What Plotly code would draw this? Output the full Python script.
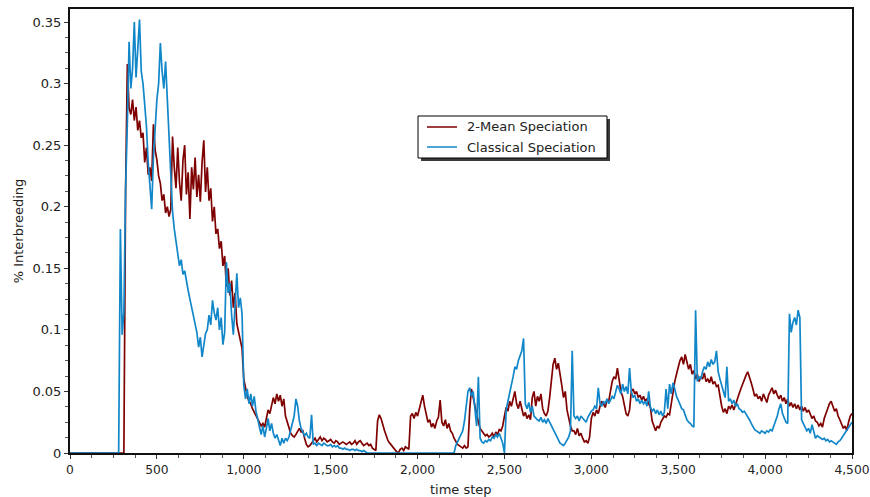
import plotly.graph_objects as go

# Sampling grid: one sample every 10 time steps from 0 to 4500
time_step = list(range(0, 4510, 10))

# % interbreeding for the 2-Mean speciation run (one row = 100 time steps)
two_mean = [
    0, 0, 0, 0, 0, 0, 0, 0, 0, 0,
    0, 0, 0, 0, 0, 0, 0, 0, 0, 0,
    0, 0, 0, 0, 0, 0, 0, 0, 0, 0,
    0, 0, 0.214, 0.316, 0.28, 0.275, 0.287, 0.27, 0.281, 0.262,
    0.27, 0.256, 0.26, 0.236, 0.248, 0.226, 0.232, 0.221, 0.267, 0.246,
    0.238, 0.225, 0.219, 0.205, 0.21, 0.195, 0.2, 0.192, 0.198, 0.257,
    0.232, 0.215, 0.248, 0.22, 0.205, 0.238, 0.25, 0.21, 0.228, 0.19,
    0.232, 0.214, 0.24, 0.208, 0.226, 0.204, 0.236, 0.254, 0.212, 0.232,
    0.205, 0.215, 0.188, 0.2, 0.178, 0.182, 0.166, 0.172, 0.152, 0.16,
    0.135, 0.15, 0.128, 0.14, 0.118, 0.13, 0.105, 0.098, 0.092, 0.085,
    0.06, 0.052, 0.046, 0.042, 0.04, 0.036, 0.033, 0.03, 0.028, 0.025,
    0.022, 0.024, 0.021, 0.028, 0.035, 0.032, 0.04, 0.045, 0.04, 0.048,
    0.042, 0.047, 0.038, 0.044, 0.03, 0.025, 0.02, 0.016, 0.014, 0.013,
    0.015, 0.018, 0.02, 0.017, 0.018, 0.012, 0.007, 0.005, 0.006, 0.008,
    0.01, 0.012, 0.009, 0.011, 0.013, 0.01, 0.012, 0.011, 0.009, 0.01,
    0.011, 0.009, 0.008, 0.01, 0.009, 0.007, 0.008, 0.009, 0.008, 0.007,
    0.008, 0.009, 0.007, 0.008, 0.01, 0.007, 0.009, 0.01, 0.008, 0.006,
    0.007, 0.008, 0.006, 0.007, 0.004, 0.003, 0.002, 0.026, 0.031, 0.028,
    0.022, 0.018, 0.014, 0.01, 0.008, 0.006, 0.004, 0.002, 0.001, 0.0,
    0.003, 0.004, 0.002, 0.005, 0.004, 0.003, 0.03, 0.032, 0.028, 0.033,
    0.03, 0.035, 0.04, 0.047, 0.038, 0.03, 0.025, 0.027, 0.021, 0.024,
    0.02, 0.026, 0.029, 0.043, 0.025, 0.022, 0.027, 0.02, 0.024, 0.018,
    0.016, 0.012, 0.009, 0.007, 0.006, 0.005, 0.004, 0.006, 0.004, 0.005,
    0.035, 0.052, 0.045, 0.036, 0.03, 0.025, 0.02, 0.018, 0.016, 0.014,
    0.015, 0.013, 0.014, 0.016, 0.013, 0.017, 0.015, 0.019, 0.018, 0.022,
    0.03, 0.037, 0.034, 0.042, 0.038, 0.045, 0.05, 0.04, 0.036, 0.042,
    0.035, 0.03, 0.033, 0.028, 0.031, 0.027, 0.045, 0.05, 0.038, 0.046,
    0.042, 0.048, 0.036, 0.032, 0.03, 0.034, 0.045, 0.06, 0.072, 0.077,
    0.068, 0.073, 0.062, 0.055, 0.045, 0.05, 0.035, 0.028, 0.022, 0.018,
    0.018, 0.015, 0.02, 0.014, 0.016, 0.012, 0.009, 0.01, 0.008, 0.013,
    0.028, 0.033, 0.03, 0.035, 0.032, 0.038, 0.042, 0.04, 0.037, 0.043,
    0.042, 0.05, 0.058, 0.062, 0.06, 0.069, 0.058, 0.05, 0.046, 0.038,
    0.032, 0.03, 0.035, 0.05, 0.052, 0.048, 0.05, 0.045, 0.047, 0.043,
    0.046, 0.042, 0.044, 0.04, 0.037, 0.026, 0.022, 0.018, 0.022, 0.02,
    0.025, 0.028, 0.03, 0.029, 0.032, 0.031, 0.04, 0.052, 0.058, 0.064,
    0.07, 0.075, 0.078, 0.072, 0.08, 0.074, 0.068, 0.072, 0.064, 0.067,
    0.06, 0.064, 0.058, 0.062, 0.06, 0.065, 0.058, 0.06, 0.057, 0.062,
    0.056, 0.058, 0.054, 0.055, 0.045, 0.038, 0.033, 0.036, 0.032, 0.038,
    0.036, 0.039, 0.035, 0.04, 0.045, 0.048, 0.052, 0.056, 0.06, 0.063,
    0.066, 0.062, 0.057, 0.052, 0.046, 0.048, 0.044, 0.046, 0.042, 0.048,
    0.045, 0.041, 0.047, 0.05, 0.053, 0.048, 0.051, 0.047, 0.044, 0.047,
    0.042, 0.045, 0.04, 0.044, 0.038, 0.041, 0.037, 0.04, 0.036, 0.039,
    0.035, 0.038, 0.034, 0.037, 0.033, 0.035, 0.031, 0.028, 0.03, 0.026,
    0.025, 0.022, 0.024, 0.021, 0.028, 0.033, 0.036, 0.04, 0.042, 0.038,
    0.034, 0.036, 0.03, 0.027, 0.024, 0.02, 0.022, 0.018, 0.025, 0.03,
    0.032,
]

# % interbreeding for the classical speciation run (one row = 100 time steps)
classical = [
    0, 0, 0, 0, 0, 0, 0, 0, 0, 0,
    0, 0, 0, 0, 0, 0, 0, 0, 0, 0,
    0, 0, 0, 0, 0, 0, 0, 0, 0, 0.182,
    0.096, 0.114, 0.215, 0.268, 0.334, 0.296, 0.312, 0.35, 0.305, 0.328,
    0.352, 0.31, 0.3, 0.283, 0.265, 0.236, 0.215, 0.198, 0.24, 0.265,
    0.287, 0.3, 0.333, 0.31, 0.296, 0.318, 0.29, 0.262, 0.225, 0.196,
    0.182, 0.172, 0.163, 0.152, 0.157, 0.145, 0.148, 0.138, 0.132, 0.125,
    0.118, 0.112, 0.104, 0.098, 0.086, 0.094, 0.078, 0.09, 0.097, 0.1,
    0.112, 0.104, 0.124, 0.114, 0.108, 0.118, 0.1, 0.11, 0.088, 0.098,
    0.155, 0.13, 0.138, 0.112, 0.096, 0.12, 0.146, 0.118, 0.126, 0.113,
    0.055, 0.044, 0.052, 0.04, 0.048, 0.038, 0.046, 0.034, 0.027, 0.02,
    0.015, 0.022, 0.013, 0.02, 0.028, 0.018, 0.024, 0.016, 0.012, 0.015,
    0.01, 0.006, 0.012, 0.008, 0.012, 0.01, 0.013, 0.018, 0.025, 0.03,
    0.044, 0.038, 0.026, 0.02, 0.017, 0.014, 0.016, 0.013, 0.012, 0.031,
    0.007, 0.008, 0.006, 0.008, 0.007, 0.006, 0.008, 0.007, 0.006, 0.006,
    0.007, 0.005, 0.006, 0.005, 0.006, 0.004, 0.004, 0.003, 0.004, 0.003,
    0.003, 0.002, 0.003, 0.003, 0.002, 0.003, 0.002, 0.002, 0.001, 0.002,
    0.001, 0, 0, 0, 0, 0, 0, 0, 0, 0,
    0, 0, 0, 0, 0, 0, 0, 0, 0, 0,
    0, 0, 0, 0, 0, 0, 0, 0, 0, 0,
    0, 0, 0, 0, 0, 0, 0, 0, 0, 0,
    0, 0, 0, 0, 0, 0, 0, 0, 0, 0,
    0, 0, 0.006, 0.009, 0.012, 0.014, 0.018, 0.026, 0.04, 0.05,
    0.053, 0.046, 0.05, 0.035, 0.022, 0.062, 0.012, 0.009, 0.008, 0.01,
    0.009, 0.011, 0.01, 0.013, 0.012, 0.015, 0.013, 0.016, 0.012, 0.008,
    0, 0.035, 0.042, 0.048, 0.055, 0.062, 0.07, 0.068, 0.075, 0.08,
    0.083, 0.093, 0.04, 0.036, 0.041, 0.033, 0.038, 0.03, 0.028, 0.027,
    0.026, 0.029, 0.025, 0.027, 0.024, 0.028, 0.025, 0.022, 0.02, 0.016,
    0.013, 0.01, 0.008, 0.007, 0.006, 0.008, 0.01, 0.013, 0.018, 0.083,
    0.03, 0.028, 0.03, 0.026, 0.03, 0.028, 0.027, 0.025, 0.029, 0.032,
    0.034, 0.035, 0.038, 0.036, 0.053, 0.04, 0.038, 0.042, 0.04, 0.044,
    0.04, 0.043, 0.046, 0.044, 0.05, 0.055, 0.052, 0.048, 0.056, 0.05,
    0.054, 0.048, 0.069, 0.05, 0.045, 0.047, 0.042, 0.044, 0.04, 0.043,
    0.04, 0.042, 0.038, 0.05, 0.037, 0.034, 0.036, 0.032, 0.035, 0.031,
    0.034, 0.03, 0.033, 0.052, 0.036, 0.056, 0.048, 0.057, 0.052, 0.046,
    0.043, 0.04, 0.036, 0.035, 0.03, 0.027, 0.025, 0.024, 0.022, 0.021,
    0.116, 0.058, 0.062, 0.06, 0.066, 0.07, 0.068, 0.074, 0.07, 0.076,
    0.072, 0.074, 0.083, 0.066, 0.06, 0.055, 0.048, 0.045, 0.07, 0.042,
    0.044, 0.04, 0.043, 0.038, 0.04, 0.036, 0.035, 0.033, 0.034, 0.032,
    0.03, 0.027, 0.024, 0.021, 0.019, 0.018, 0.017, 0.016, 0.018, 0.017,
    0.016, 0.018, 0.017, 0.019, 0.018, 0.022, 0.026, 0.03, 0.036, 0.04,
    0.032, 0.028, 0.025, 0.024, 0.113, 0.098, 0.106, 0.11, 0.104, 0.116,
    0.11, 0.027, 0.024, 0.02, 0.018, 0.02, 0.016, 0.023, 0.017, 0.012,
    0.014, 0.013, 0.012, 0.011, 0.012, 0.01, 0.011, 0.009, 0.01, 0.009,
    0.008, 0.007, 0.009, 0.01, 0.012, 0.014, 0.016, 0.018, 0.02, 0.022,
    0.025,
]

series_names = ["2-Mean Speciation", "Classical Speciation"]
series_colors = ["#7f0000", "#1187c9"]

FONT = "DejaVu Sans"
TEXT = "#222222"

W, H = 870, 497
M_L, M_R, M_T, M_B = 70, 18, 9, 44


def px_x(px):
    """Horizontal pixel position -> paper fraction of the plot area."""
    return (px - M_L) / (W - M_L - M_R)


def px_y(py):
    """Vertical pixel position (from top) -> paper fraction of the plot area."""
    return (H - M_B - py) / (H - M_T - M_B)


fig = go.Figure()
for name, values, color in zip(series_names, [two_mean, classical], series_colors):
    fig.add_trace(go.Scatter(
        x=time_step, y=values, mode="lines", name=name,
        line=dict(color=color, width=1.7),
        showlegend=False,
    ))

axis_common = dict(
    showgrid=False, zeroline=False, automargin=False,
    showline=True, linecolor="#111111", linewidth=2, mirror=True,
    ticks="outside", ticklen=4, tickwidth=1, tickcolor="#333333",
    ticklabeloverflow="allow",
)

fig.update_xaxes(
    range=[0, 4500], tick0=0, dtick=500, tickformat=",",
    tickfont=dict(family=FONT, size=12.3, color=TEXT),
    minor=dict(dtick=125, ticks="outside", ticklen=3, tickcolor="#555555"),
    **axis_common,
)
fig.update_yaxes(
    range=[0, 0.3606], tick0=0, dtick=0.05,
    tickfont=dict(family=FONT, size=13, color=TEXT),
    minor=dict(dtick=0.0125, ticks="outside", ticklen=3, tickcolor="#555555"),
    title=dict(text="% Interbreeding", font=dict(family=FONT, size=13, color=TEXT), standoff=6),
    **axis_common,
)

# Legend box: drop shadow, white panel with black border, line samples and labels
box_l, box_r, box_t, box_b = 418, 607, 116, 158
shapes = [
    dict(type="rect", xref="paper", yref="paper", layer="above",
         x0=px_x(box_l + 3), x1=px_x(box_r + 3), y0=px_y(box_b + 3), y1=px_y(box_t + 3),
         fillcolor="#3a3a3a", line=dict(width=0)),
    dict(type="rect", xref="paper", yref="paper", layer="above",
         x0=px_x(box_l), x1=px_x(box_r), y0=px_y(box_b), y1=px_y(box_t),
         fillcolor="white", line=dict(color="#000000", width=1)),
]
annotations = [
    # x-axis title sitting just above the bottom edge
    dict(xref="paper", yref="paper", x=0.5, y=px_y(489), xanchor="center", yanchor="middle",
         showarrow=False, text="time step", font=dict(family=FONT, size=13, color=TEXT)),
]
for i, (name, color) in enumerate(zip(series_names, series_colors)):
    row_y = 127 + 20 * i
    shapes.append(dict(
        type="line", xref="paper", yref="paper", layer="above",
        x0=px_x(427), x1=px_x(457), y0=px_y(row_y), y1=px_y(row_y),
        line=dict(color=color, width=1.5),
    ))
    annotations.append(dict(
        xref="paper", yref="paper", x=px_x(465), y=px_y(row_y),
        xanchor="left", yanchor="middle", showarrow=False,
        text=name, font=dict(family=FONT, size=13, color=TEXT),
    ))

fig.update_layout(
    width=W, height=H,
    margin=dict(l=M_L, r=M_R, t=M_T, b=M_B, autoexpand=False),
    paper_bgcolor="white", plot_bgcolor="white",
    font=dict(family=FONT, size=13, color=TEXT),
    showlegend=False,
    shapes=shapes,
    annotations=annotations,
)

fig.write_html("out.html")
